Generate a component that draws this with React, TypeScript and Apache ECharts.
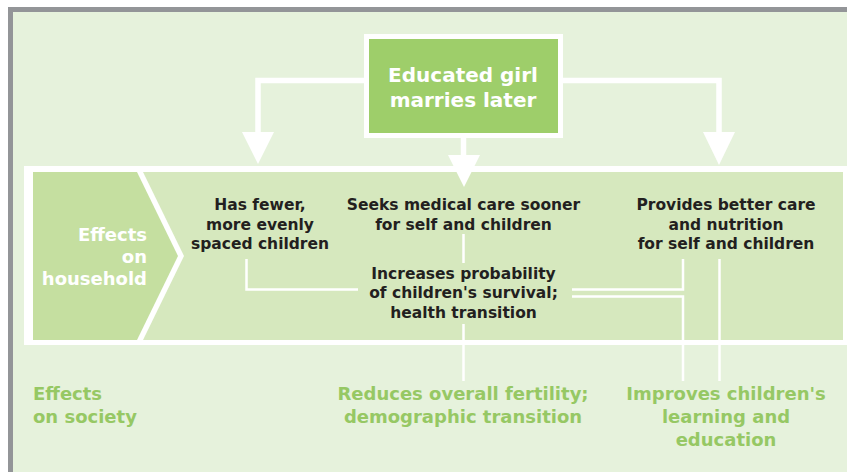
import React, { useEffect, useRef } from "react";
import * as echarts from "echarts";

const topBoxLines = ["Educated girl", "marries later"];
const householdLabel = ["Effects", "on", "household"];
const societyLabel = ["Effects", "on society"];
const fewerChildren = ["Has fewer,", "more evenly", "spaced children"];
const medicalCare = ["Seeks medical care sooner", "for self and children"];
const survival = ["Increases probability", "of children's survival;", "health transition"];
const betterCare = ["Provides better care", "and nutrition", "for self and children"];
const fertility = ["Reduces overall fertility;", "demographic transition"];
const learning = ["Improves children's", "learning and", "education"];

const BG = "#E6F2DC";
const HOUSE = "#D6E8BE";
const CHEVRON = "#C5DFA0";
const TOPBOX = "#9ECE6A";
const SOCIETY = "#96C864";
const DARK = "#231F20";
const GRAY = "#939598";
const FONT = '"DejaVu Sans", Verdana, sans-serif';

function textLines(lines: string[], x: number, y0: number, dy: number, size: number, fill: string, align: string) {
  return lines.map((t, i) => ({
    type: "text",
    x,
    y: y0 + i * dy,
    silent: true,
    style: {
      text: t,
      fill,
      font: `bold ${size}px ${FONT}`,
      textAlign: align,
      textVerticalAlign: "middle",
    },
  }));
}

export default function App() {
  const ref = useRef<HTMLDivElement>(null);
  useEffect(() => {
    if (!ref.current) return;
    const chart = echarts.init(ref.current, undefined, { renderer: "svg" });
    const W = "#FFFFFF";
    const thin = 2.5;
    const thick = 5.5;
    const elements: any[] = [
      { type: "rect", shape: { x: 0, y: 0, width: 847, height: 472 }, style: { fill: "#FFFFFF" } },
      { type: "rect", shape: { x: 8, y: 7, width: 839, height: 465 }, style: { fill: GRAY } },
      { type: "rect", shape: { x: 13, y: 12, width: 834, height: 460 }, style: { fill: BG } },
      // household band
      { type: "rect", shape: { x: 24, y: 166, width: 823, height: 179 }, style: { fill: W } },
      { type: "rect", shape: { x: 33, y: 172, width: 810, height: 168 }, style: { fill: HOUSE } },
      { type: "polygon", shape: { points: [[33, 172], [143, 172], [184, 256], [143, 340], [33, 340]] }, style: { fill: W } },
      { type: "polygon", shape: { points: [[33, 172], [137, 172], [178, 256], [137, 340], [33, 340]] }, style: { fill: CHEVRON } },
      // top arrows
      { type: "polyline", shape: { points: [[364, 80.5], [258, 80.5], [258, 136]] }, style: { stroke: W, lineWidth: thick, fill: null } },
      { type: "polygon", shape: { points: [[242, 132], [274, 132], [258, 164]] }, style: { fill: W } },
      { type: "polyline", shape: { points: [[563, 80.5], [719, 80.5], [719, 136]] }, style: { stroke: W, lineWidth: thick, fill: null } },
      { type: "polygon", shape: { points: [[703, 132], [735, 132], [719, 165]] }, style: { fill: W } },
      { type: "line", shape: { x1: 463.5, y1: 136, x2: 463.5, y2: 158 }, style: { stroke: W, lineWidth: thick } },
      { type: "polygon", shape: { points: [[448, 155], [480, 155], [464, 187]] }, style: { fill: W } },
      // top box
      { type: "rect", shape: { x: 364, y: 34, width: 199, height: 104 }, style: { fill: W } },
      { type: "rect", shape: { x: 369, y: 39, width: 189, height: 94 }, style: { fill: TOPBOX } },
      // thin connectors
      { type: "polyline", shape: { points: [[246.5, 259], [246.5, 289.5], [358, 289.5]] }, style: { stroke: W, lineWidth: thin, fill: null } },
      { type: "line", shape: { x1: 463.5, y1: 234, x2: 463.5, y2: 263 }, style: { stroke: W, lineWidth: thin } },
      { type: "line", shape: { x1: 463.5, y1: 324, x2: 463.5, y2: 381 }, style: { stroke: W, lineWidth: thin } },
      { type: "polyline", shape: { points: [[572, 289.5], [683, 289.5], [683, 259]] }, style: { stroke: W, lineWidth: thin, fill: null } },
      { type: "polyline", shape: { points: [[572, 296.5], [683, 296.5], [683, 381]] }, style: { stroke: W, lineWidth: thin, fill: null } },
      { type: "line", shape: { x1: 719.5, y1: 259, x2: 719.5, y2: 381 }, style: { stroke: W, lineWidth: thin } },
      // texts
      ...textLines(topBoxLines, 463, 75, 25, 20, W, "center"),
      ...textLines(householdLabel, 147, 234, 22, 18, W, "right"),
      ...textLines(fewerChildren, 260, 205, 19.5, 15.5, DARK, "center"),
      ...textLines(medicalCare, 463.5, 205, 19.5, 15.5, DARK, "center"),
      ...textLines(survival, 463.5, 273.5, 19.5, 15.5, DARK, "center"),
      ...textLines(betterCare, 726, 205, 19.5, 15.5, DARK, "center"),
      ...textLines(societyLabel, 33, 393, 23, 18, SOCIETY, "left"),
      ...textLines(fertility, 463, 393, 23, 18, SOCIETY, "center"),
      ...textLines(learning, 726, 393, 23, 18, SOCIETY, "center"),
    ];
    chart.setOption({
      animation: false,
      graphic: { elements },
    });
    return () => chart.dispose();
  }, []);
  return <div ref={ref} style={{ position: "absolute", left: 0, top: 0, width: 847, height: 472 }} />;
}
